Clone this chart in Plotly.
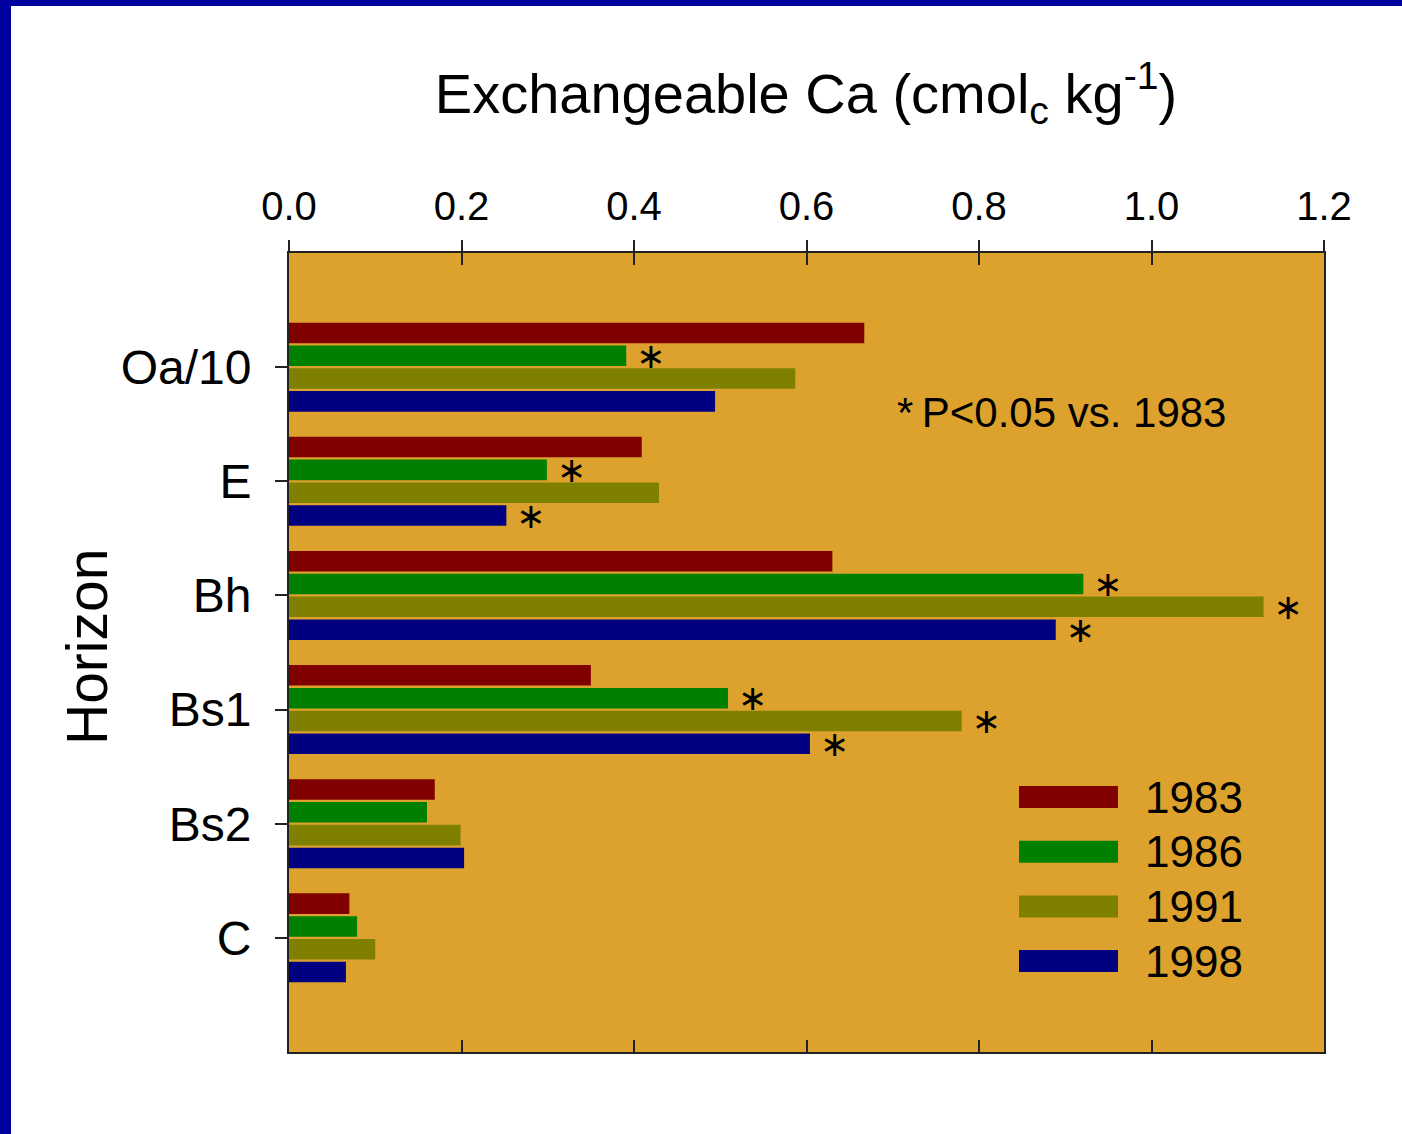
import plotly.graph_objects as go

# Soil horizons (top to bottom) and sampling years
horizons = ["Oa/10", "E", "Bh", "Bs1", "Bs2", "C"]
years = ["1983", "1986", "1991", "1998"]

# Exchangeable Ca (cmol_c kg-1) per horizon, one list per year
ca_1983 = [0.667, 0.409, 0.630, 0.350, 0.169, 0.070]
ca_1986 = [0.391, 0.299, 0.921, 0.509, 0.160, 0.079]
ca_1991 = [0.587, 0.429, 1.130, 0.780, 0.199, 0.100]
ca_1998 = [0.494, 0.252, 0.889, 0.604, 0.203, 0.066]

# Significance flags (P<0.05 vs. 1983)
sig_1983 = [False, False, False, False, False, False]
sig_1986 = [True, True, True, True, False, False]
sig_1991 = [False, False, True, True, False, False]
sig_1998 = [False, True, True, True, False, False]

series = [ca_1983, ca_1986, ca_1991, ca_1998]
flags = [sig_1983, sig_1986, sig_1991, sig_1998]
colors = ["#800000", "#008000", "#808000", "#000080"]

FONT = "Liberation Sans, Arial, sans-serif"
W, H = 1402, 1134
ML, MR, MT, MB = 289, 78, 253, 82
PW, PH = W - ML - MR, H - MT - MB


def px_x(p):
    return (p - ML) / PW


def px_y(p):
    return (H - MB - p) / PH


fig = go.Figure()
for yr, vals, sig, col in zip(years, series, flags, colors):
    fig.add_trace(go.Bar(
        y=horizons, x=vals, orientation="h", name=yr,
        marker=dict(color=col, line=dict(width=0)),
        text=["\u2009\u2217" if s else "" for s in sig],
        textposition="outside", constraintext="none", cliponaxis=False,
        textfont=dict(family="DejaVu Sans", size=35, color="black"),
        showlegend=False,
    ))

# legend: wide swatches with year labels
shapes = []
annotations = []
leg_top = 797
leg_step = 54.7
for i, (yr, col) in enumerate(zip(years, colors)):
    yc = px_y(leg_top + i * leg_step)
    shapes.append(dict(type="rect", xref="paper", yref="paper",
                       x0=px_x(1019), x1=px_x(1118),
                       y0=yc - 11 / PH, y1=yc + 11 / PH,
                       fillcolor=col, line=dict(width=0)))
    annotations.append(dict(xref="paper", yref="paper", x=px_x(1143), y=yc,
                            text=yr, showarrow=False, xanchor="left",
                            yanchor="middle",
                            font=dict(family=FONT, size=44, color="black")))

annotations.append(dict(xref="paper", yref="paper", x=px_x(1061), y=px_y(412),
                        text="*\u2009P<0.05 vs. 1983", showarrow=False,
                        xanchor="center", yanchor="middle",
                        font=dict(family=FONT, size=42, color="black")))
annotations.append(dict(xref="paper", yref="paper", x=px_x(87), y=px_y(647),
                        text="Horizon", textangle=-90, showarrow=False,
                        xanchor="center", yanchor="middle",
                        font=dict(family=FONT, size=57, color="black")))

# blue frame along the top and left edges of the page
shapes.append(dict(type="rect", xref="paper", yref="paper", layer="above",
                   x0=px_x(0), x1=px_x(11), y0=px_y(H), y1=px_y(0),
                   fillcolor="#0000A0", line=dict(width=0)))
shapes.append(dict(type="rect", xref="paper", yref="paper", layer="above",
                   x0=px_x(0), x1=px_x(W), y0=px_y(6), y1=px_y(0),
                   fillcolor="#0000A0", line=dict(width=0)))

axis_col = "#222222"
fig.update_layout(
    width=W, height=H,
    margin=dict(l=ML, r=MR, t=MT, b=MB, autoexpand=False),
    paper_bgcolor="white", plot_bgcolor="#DCA22D",
    barmode="group", bargap=0.2, bargroupgap=0.1,
    font=dict(family=FONT, color="black"),
    title=dict(text="Exchangeable Ca (cmol<sub>c</sub> kg<sup>-1</sup>)",
               x=px_x(806), xref="paper", xanchor="center",
               y=1 - 93 / H, yref="container", yanchor="middle",
               font=dict(family=FONT, size=56, color="black")),
    xaxis=dict(side="top", range=[0, 1.2], dtick=0.2, tick0=0,
               ticks="inside", ticklen=12, tickwidth=2, tickcolor=axis_col,
               showticklabels=False, mirror="allticks", showline=True,
               linewidth=2, linecolor=axis_col, showgrid=False,
               zeroline=False),
    xaxis2=dict(overlaying="x", matches="x", anchor="y", side="top",
                range=[0, 1.2], dtick=0.2, tick0=0, tickformat=".1f",
                ticks="outside", ticklen=12, tickwidth=2, tickcolor=axis_col,
                ticklabelstandoff=4,
                tickfont=dict(family=FONT, size=40, color="black"),
                showline=False, showgrid=False, zeroline=False),
    yaxis=dict(type="category", categoryorder="array",
               categoryarray=horizons, range=[6, -1],
               ticks="outside", ticklen=12, tickwidth=2, tickcolor=axis_col,
               ticklabelstandoff=14,
               tickfont=dict(family=FONT, size=48, color="black"),
               showline=True, mirror=True, linewidth=2, linecolor=axis_col,
               showgrid=False, zeroline=False),
    shapes=shapes, annotations=annotations,
)

# anchor the labelled top axis to the shared x range
fig.add_trace(go.Scatter(x=[0, 1.2], y=[horizons[0], horizons[0]],
                         xaxis="x2", mode="none", showlegend=False,
                         hoverinfo="skip"))

fig.write_html("out.html")
